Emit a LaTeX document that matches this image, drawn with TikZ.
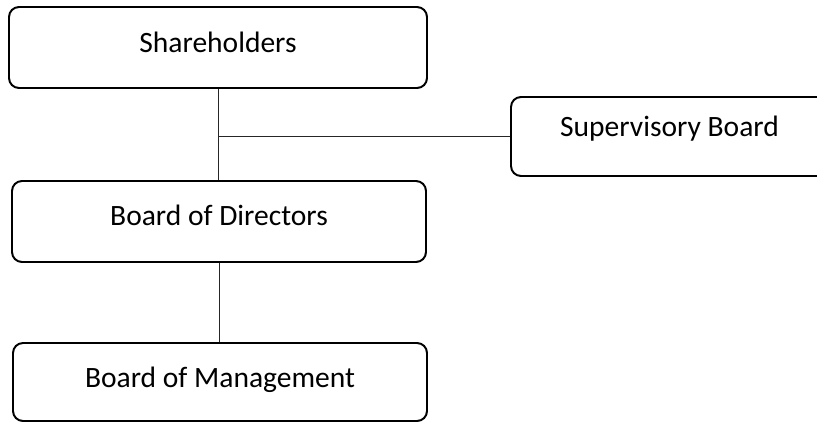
\documentclass[tikz,border=0pt]{standalone}
\usepackage{fontspec}
\setmainfont{Carlito}
\usetikzlibrary{positioning,calc}
\tikzset{
    orgbox/.style={draw, line width=1.4pt, rounded corners=0.25cm, font=\fontsize{21}{25}\selectfont,
        text height=0.5cm, text depth=0.225cm},
    link/.style={draw=black!85, line width=0.7pt}
}

\begin{document}
\begin{tikzpicture}
    \useasboundingbox (0,0) rectangle (20.425,10.525);

    % Boxes
    \node[orgbox, minimum width=10.45cm, minimum height=2.025cm] (share) at (5.45,9.3375) {Shareholders};
    \node[orgbox, minimum width=10.35cm, minimum height=2.025cm, text depth=0.3cm] (directors) at (5.475,4.9875) {Board of Directors};
    \node[orgbox, minimum width=10.35cm, minimum height=1.95cm] (management) at (5.5,0.975) {Board of Management};
    \node[orgbox, minimum width=7.925cm, minimum height=1.975cm, text height=0.4cm, text depth=0.4cm] (supervisory) at (16.7375,7.1125) {Supervisory Board};

    % Connectors
    \coordinate (tee) at (share.south |- supervisory.west);
    \draw[link] (share.south) -- (share.south |- directors.north);
    \draw[link] (tee) -- (supervisory.west);
    \draw[link] (directors.south) -- (directors.south |- management.north);
\end{tikzpicture}
\end{document}
